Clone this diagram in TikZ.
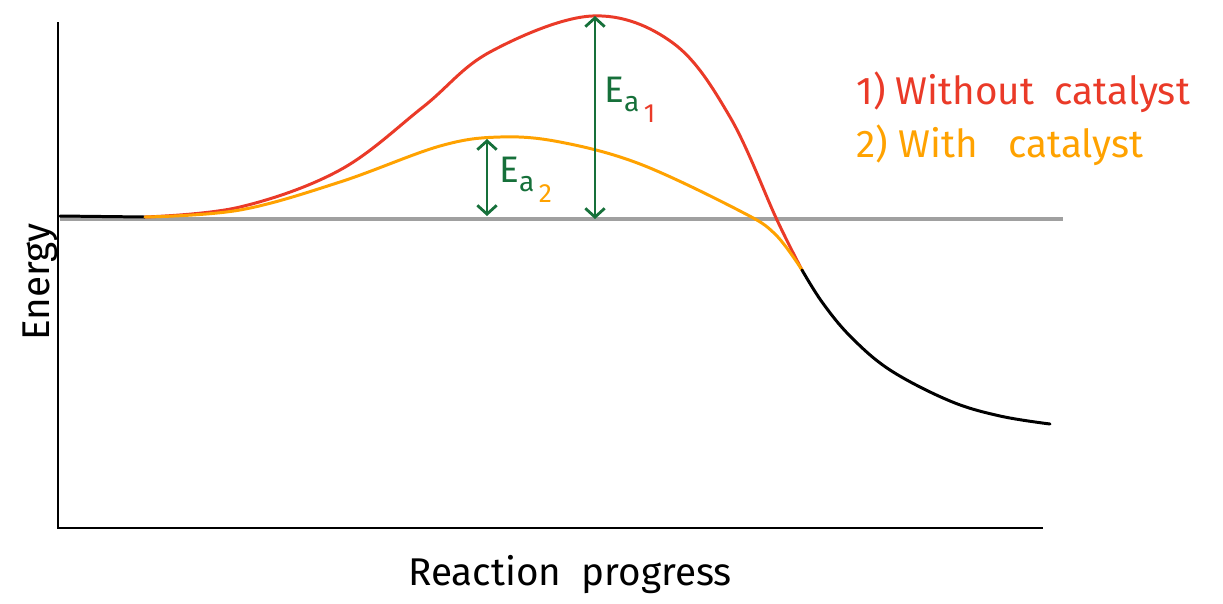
\documentclass[tikz,border=0pt]{standalone}
\usepackage{fontspec}
\setmainfont{Fira Sans}
\usepackage{xcolor}
\usetikzlibrary{arrows.meta}
\definecolor{nocat}{RGB}{234,58,40}
\definecolor{withcat}{RGB}{255,162,0}
\definecolor{eagreen}{RGB}{22,112,58}
\definecolor{refgray}{RGB}{160,160,160}
\newcommand{\Ea}[2]{E\raisebox{-0.25em}{\fontsize{16}{18}\selectfont a\raisebox{-0.4em}{\fontsize{15}{17}\selectfont\color{#1}\,#2}}}

\begin{document}
\begin{tikzpicture}[
  x=0.02cm,y=-0.02cm,
  axis/.style={draw=black,line width=1.6pt},
  curve/.style={line width=1.7pt,line cap=round,line join=round},
  gap/.style={eagreen,line width=1.6pt,{Straight Barb[length=5pt,width=11pt]}-{Straight Barb[length=5pt,width=11pt]}},
  label/.style={font=\fontsize{22}{24}\selectfont,inner sep=0pt},
  ealabel/.style={font=\fontsize{21}{23}\selectfont,text=eagreen,inner sep=0pt,anchor=west}
]
\useasboundingbox (0,0) rectangle (1223,603);
% axes
\coordinate (top) at (58,22);
\coordinate (origin) at (58,528);
\coordinate (right) at (1043,528);
\draw[axis] (top) -- (origin) -- (right);
% reactant level
\coordinate (base0) at (60,219);
\coordinate (base1) at (1063,219);
\draw[refgray,line width=2pt] (base0) -- (base1);
\draw[curve,black] (60,216) -- (145,217);
% without catalyst
\draw[curve,nocat] plot[smooth,tension=0.6] coordinates {
  (145,217) (240,207) (340,170) (423,107) (490,52) (592,16) (673,43)
  (730,117) (777,220) (802,270)};
% with catalyst
\draw[curve,withcat] plot[smooth,tension=0.6] coordinates {
  (145,217) (240,210) (340,182) (440,146) (500,137) (560,142) (640,164)
  (740,211) (775,234) (802,270)};
% products
\draw[curve,black] plot[smooth,tension=0.6] coordinates {
  (802,270) (822,302) (850,336) (890,370) (950,401) (1000,416) (1050,424)};
% activation energies
\coordinate (peak1) at (595,16);
\coordinate (foot1) at (595,219);
\coordinate (peak2) at (487,139);
\coordinate (foot2) at (487,216);
\draw[gap] (foot1) -- (peak1);
\draw[gap] (foot2) -- (peak2);
\node[ealabel] (ea1) at (604,100) {\Ea{nocat}{1}};
\node[ealabel] (ea2) at (499,180) {\Ea{withcat}{2}};
% legend
\node[label,text=nocat,anchor=west] (leg1) at (856,92) {1) Without\ \ catalyst};
\node[label,text=withcat,anchor=west] (leg2) at (856,145) {2) With\ \ \ catalyst};
% axis labels
\node[label,rotate=90] (ylab) at (40,282) {Energy};
\node[label] (xlab) at (570,575) {Reaction\ \ progress};
\end{tikzpicture}
\end{document}
